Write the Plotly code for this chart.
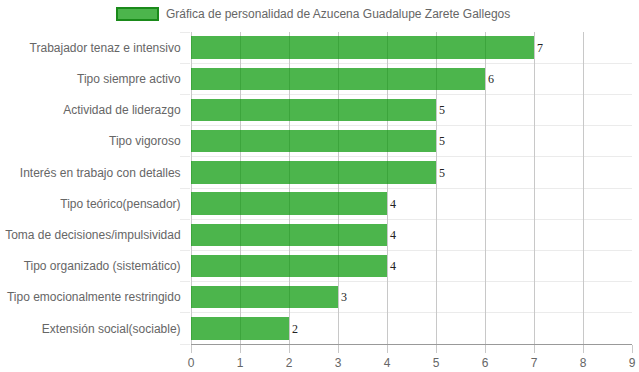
import plotly.graph_objects as go

categories = [
    "Trabajador tenaz e intensivo",
    "Tipo siempre activo",
    "Actividad de liderazgo",
    "Tipo vigoroso",
    "Interés en trabajo con detalles",
    "Tipo teórico(pensador)",
    "Toma de decisiones/impulsividad",
    "Tipo organizado (sistemático)",
    "Tipo emocionalmente restringido",
    "Extensión social(sociable)",
]
values = [7, 6, 5, 5, 5, 4, 4, 4, 3, 2]
series_name = "Gráfica de personalidad de Azucena Guadalupe Zarete Gallegos"
x_ticks = list(range(0, 10))

W, H = 639, 372
SL, SR, ST, SB = 191, 632, 32, 344          # plot area in screen pixels
L, T = SL, ST
R = W - SR
B = H - SB
pw, ph = W - L - R, H - T - B

def px_x(p):
    return (p - L) / pw

def px_y(p):
    return (H - B - p) / ph

positions = list(range(len(categories)))

fig = go.Figure()
fig.add_trace(go.Bar(
    x=values, y=positions, orientation="h",
    marker=dict(color="rgba(0,150,0,0.7)", line=dict(width=0)),
    width=0.72,
    text=[str(v) for v in values], textposition="outside",
    textfont=dict(family="Liberation Serif", size=12, color="#222"),
    cliponaxis=False, showlegend=False, hoverinfo="skip",
))

fig.update_layout(
    template="none",
    width=W, height=H,
    margin=dict(l=L, r=R, t=T, b=B, pad=0),
    paper_bgcolor="white", plot_bgcolor="white",
    font=dict(family="Liberation Sans", size=12, color="#666"),
    showlegend=False,
    bargap=0,
    xaxis=dict(
        automargin=False,
        range=[0, 9], tickvals=x_ticks, ticktext=[str(t) for t in x_ticks],
        showgrid=True, gridcolor="#c8c8c8", gridwidth=1,
        zeroline=True, zerolinecolor="#c8c8c8", zerolinewidth=1,
        ticks="outside", ticklen=8, tickcolor="#c8c8c8", tickwidth=1,
        showline=True, linecolor="#999", linewidth=1,
        tickfont=dict(family="Liberation Sans", size=12, color="#666"),
    ),
    yaxis=dict(
        automargin=False,
        range=[len(categories) - 0.5, -0.5],
        tickvals=positions, ticktext=categories,
        showgrid=False, zeroline=False, showline=False,
        ticks="outside", ticklen=7, tickcolor="rgba(0,0,0,0)",
        tickfont=dict(family="Liberation Sans", size=12, color="#666"),
        minor=dict(tick0=0.5, dtick=1, showgrid=True, gridcolor="#ebebeb",
                   gridwidth=1, ticks="outside", ticklen=10, tickcolor="#ebebeb"),
    ),
    shapes=[dict(
        type="rect", xref="paper", yref="paper",
        x0=px_x(117), x1=px_x(158), y0=px_y(20), y1=px_y(8),
        fillcolor="rgba(0,150,0,0.7)", line=dict(color="#1a8a1a", width=2),
    )],
    annotations=[dict(
        xref="paper", yref="paper", x=px_x(164), y=px_y(14),
        xanchor="left", yanchor="middle", text=series_name, showarrow=False,
        font=dict(family="Liberation Sans", size=12, color="#666"),
    )],
)

fig.write_html("out.html", config={"displayModeBar": False},
               post_script="document.body.style.margin='0';")
